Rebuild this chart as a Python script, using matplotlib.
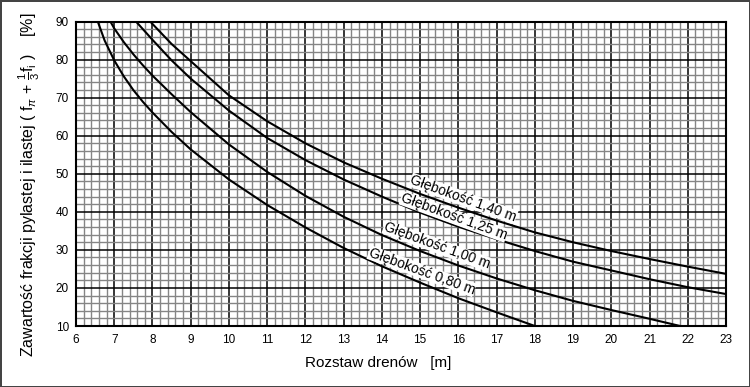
import matplotlib
matplotlib.use("Agg")
import matplotlib.pyplot as plt
from matplotlib.ticker import MultipleLocator

plt.rcParams['font.family'] = ['Liberation Sans', 'DejaVu Sans']
plt.rcParams['mathtext.fontset'] = 'custom'
plt.rcParams['mathtext.rm'] = 'Liberation Sans'
plt.rcParams['mathtext.it'] = 'Liberation Sans:italic'

# depth 1.40 m
x140 = [7.94, 8.5, 9, 10, 11, 12, 13, 14, 15, 16, 17, 18, 19, 20, 21, 22, 23]
y140 = [90, 84.1, 79.6, 70.6, 63.8, 58.0, 53.0, 48.7, 44.7, 41.1, 37.7, 34.6, 32.0, 29.7, 27.6, 25.6, 23.7]
# depth 1.25 m
x125 = [7.57, 8, 8.5, 9, 10, 11, 12, 13, 14, 15, 16, 17, 18, 19, 20, 21, 22, 23]
y125 = [90, 85.2, 79.8, 75.0, 66.6, 59.4, 53.6, 48.5, 44.0, 39.8, 36.1, 32.8, 29.7, 26.9, 24.6, 22.3, 20.2, 18.4]
# depth 1.00 m
x100 = [6.9, 7, 7.25, 7.5, 7.75, 8, 8.5, 9, 10, 11, 12, 13, 14, 15, 16, 17, 18, 19, 20, 21, 21.8]
y100 = [90, 88.2, 84.6, 81.4, 78.5, 75.8, 70.9, 66.2, 57.7, 50.5, 44.2, 38.7, 33.9, 29.7, 25.9, 22.5, 19.4, 16.6, 14.2, 11.9, 10]
# depth 0.80 m
x080 = [6.57, 6.75, 7, 7.25, 7.5, 7.75, 8, 8.5, 9, 10, 11, 12, 13, 14, 15, 16, 17, 18]
y080 = [90, 85.0, 79.8, 75.6, 72.0, 68.9, 66.1, 61.0, 56.4, 48.5, 41.8, 35.9, 30.5, 25.7, 21.4, 17.3, 13.6, 10.0]

labels = ["Głębokość 1,40 m", "Głębokość 1,25 m", "Głębokość 1,00 m", "Głębokość 0,80 m"]
label_x = [16.13, 15.88, 15.43, 15.04]
label_y = [43.5, 38.7, 31.1, 24.4]

fig = plt.figure(figsize=(7.5, 3.87), dpi=100)
fig.patch.set_edgecolor('#444444')
fig.patch.set_linewidth(2)
ax = fig.add_axes([0.1013, 0.1576, 0.8667, 0.7868])

for xs, ys in [(x140, y140), (x125, y125), (x100, y100), (x080, y080)]:
    ax.plot(xs, ys, color='black', lw=1.5, zorder=3)

for s, lx, ly in zip(labels, label_x, label_y):
    ax.text(lx, ly, s, rotation=-20, rotation_mode='anchor', ha='center', va='center',
            fontsize=10, zorder=4,
            bbox=dict(facecolor='white', edgecolor='none', pad=0.1))

ax.set_xlim(6, 23)
ax.set_ylim(10, 90)
ax.xaxis.set_major_locator(MultipleLocator(1))
ax.xaxis.set_minor_locator(MultipleLocator(0.2))
ax.yaxis.set_major_locator(MultipleLocator(10))
ax.yaxis.set_minor_locator(MultipleLocator(2))
ax.set_axisbelow(True)
ax.grid(which='minor', color='#858585', lw=1.0)
ax.grid(which='major', color='black', lw=1.1)
ax.tick_params(which='both', length=0, labelsize=8.5)
ax.tick_params(axis='y', pad=5)
ax.tick_params(axis='x', pad=6)
for sp in ax.spines.values():
    sp.set_linewidth(1.5)
    sp.set_color('black')

ax.set_xlabel("Rozstaw drenów   [m]", fontsize=11)
ax.xaxis.set_label_coords(0.465, -0.10)
ax.set_ylabel(r"Zawartość frakcji pylastej i ilastej ( f$_{\pi}$ + $\frac{1}{3}$f$_{\rm i}$ )    [%]", fontsize=11.5)
ax.yaxis.set_label_coords(-0.052, 0.463)

fig.savefig("out.png", dpi=100, edgecolor=fig.get_edgecolor())
